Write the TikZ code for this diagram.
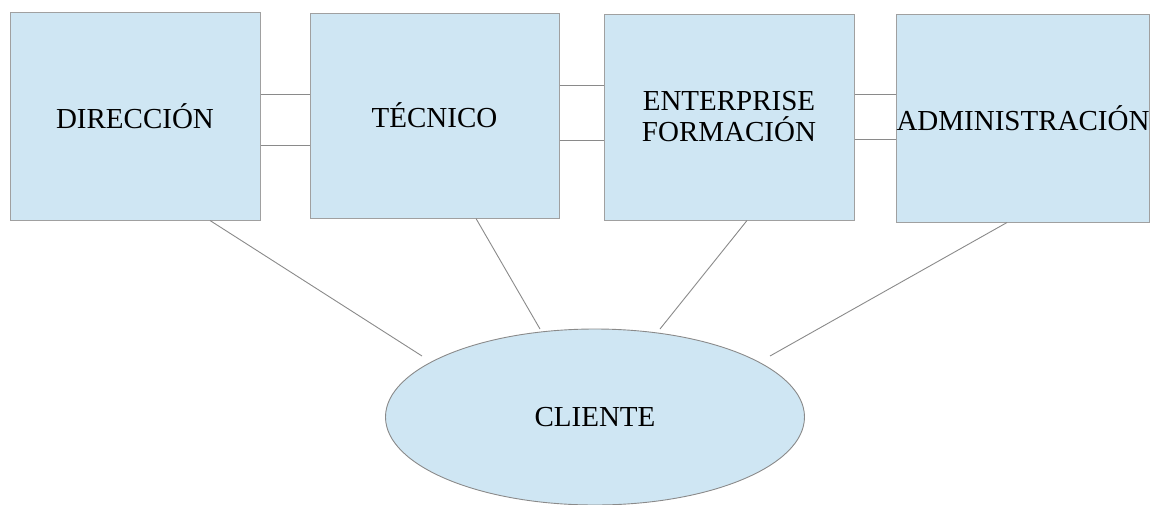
\documentclass[tikz,border=0pt]{standalone}
\usepackage{fontspec}
\setmainfont{Liberation Serif}
\usetikzlibrary{shapes.geometric}
\definecolor{boxfill}{HTML}{CFE6F3}
\definecolor{boxline}{HTML}{A0A0A0}
\definecolor{linkline}{HTML}{8A8A8A}
\begin{document}
\begin{tikzpicture}[x=1pt,y=-1pt,
  dept/.style={draw=boxline, fill=boxfill, line width=1pt, rectangle,
    inner sep=0pt, font=\fontsize{29}{31}\selectfont, align=center},
  client/.style={draw=linkline, fill=boxfill, line width=0.9pt, ellipse,
    inner sep=0pt, minimum width=419pt, minimum height=176pt,
    font=\fontsize{29}{31}\selectfont},
  link/.style={draw=linkline, line width=0.9pt}]
\useasboundingbox (0,0) rectangle (1157,504);

% departments
\node[dept, minimum width=250pt, minimum height=208pt] (dir) at (135,116) {DIRECCIÓN};
\node[dept, minimum width=249pt, minimum height=205pt] (tec) at (434.5,115.5) {TÉCNICO};
\node[dept, minimum width=250pt, minimum height=206pt] (ent) at (729,117) {ENTERPRISE\\FORMACIÓN};
\node[dept, minimum width=250pt, minimum height=208pt] (adm) at (1023,118) {ADMINISTRACIÓN};

% client
\node[client] (cli) at (595,417) {CLIENTE};

% links between neighbouring departments
\draw[link] (dir.east |- 0,94) -- (tec.west |- 0,94);
\draw[link] (dir.east |- 0,145) -- (tec.west |- 0,145);
\draw[link] (tec.east |- 0,85) -- (ent.west |- 0,85);
\draw[link] (tec.east |- 0,140) -- (ent.west |- 0,140);
\draw[link] (ent.east |- 0,94) -- (adm.west |- 0,94);
\draw[link] (ent.east |- 0,139) -- (adm.west |- 0,139);

% links towards the client
\coordinate (k1) at (422,356);
\coordinate (k2) at (540,329);
\coordinate (k3) at (660,329);
\coordinate (k4) at (770,356);
\draw[link] (dir.south -| 210,0) -- (k1);
\draw[link] (tec.south -| 476,0) -- (k2);
\draw[link] (ent.south -| 747,0) -- (k3);
\draw[link] (adm.south -| 1007,0) -- (k4);
\end{tikzpicture}
\end{document}
